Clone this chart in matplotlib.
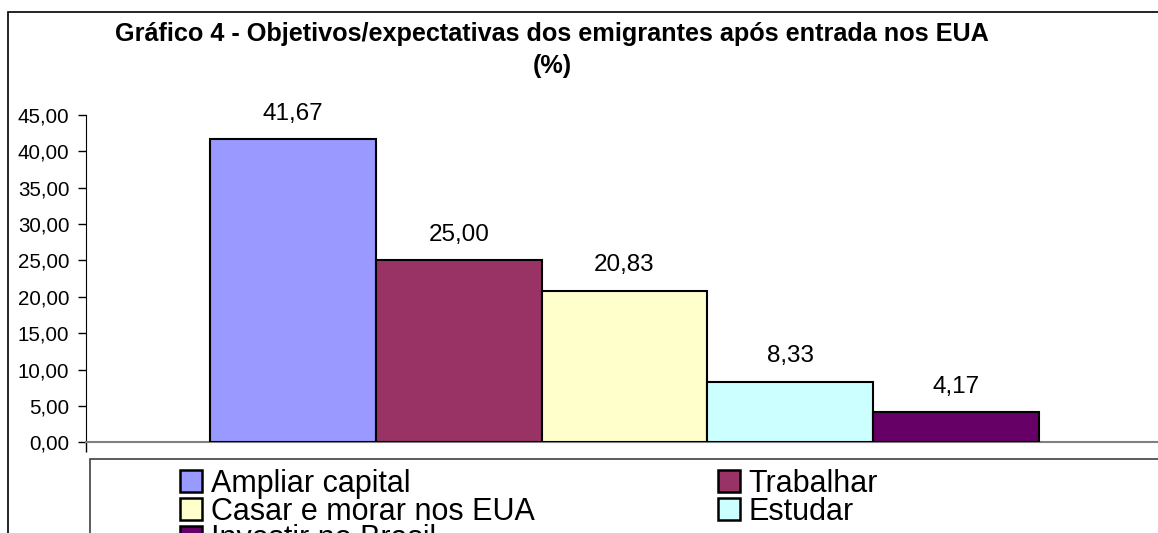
import matplotlib.pyplot as plt
from matplotlib.patches import Rectangle, Patch

plt.rcParams['font.family'] = ['Liberation Sans', 'DejaVu Sans']

# data
series = ['Ampliar capital', 'Trabalhar', 'Casar e morar nos EUA', 'Estudar', 'Investir no Brasil']
values = [41.67, 25.00, 20.83, 8.33, 4.17]
colors = ['#9999FF', '#993366', '#FFFFCC', '#CCFFFF', '#660066']
yticks = [0, 5, 10, 15, 20, 25, 30, 35, 40, 45]
title = 'Gráfico 4 - Objetivos/expectativas dos emigrantes após entrada nos EUA\n(%)'

W, H = 1158, 533
fig = plt.figure(figsize=(W / 100, H / 100), dpi=100)

# outer chart frame (cropped on right and bottom)
fig.patches.append(Rectangle((8 / W, -0.1), 1.2, (H - 12) / H + 0.1, transform=fig.transFigure,
                             fill=False, edgecolor='black', linewidth=1.2))

ax = fig.add_axes([86 / W, (H - 442.3) / H, 1077 / W, 327.3 / H])
x = list(range(len(values)))
ax.bar(x, values, width=1.0, color=colors, edgecolor='black', linewidth=1.5, zorder=3)
for xi, v in zip(x, values):
    ax.annotate(f'{v:.2f}'.replace('.', ','), (xi, v), xytext=(0, 14), textcoords='offset points',
                ha='center', va='baseline', fontsize=17.5)

ax.set_xlim(-1.248, 5.248)
ax.set_ylim(0, 45)
ax.set_yticks(yticks)
ax.set_yticklabels([f'{t:.2f}'.replace('.', ',') for t in yticks], fontsize=14.8)
ax.tick_params(axis='y', direction='out', length=6, width=1, pad=6)
ax.set_xticks([-1.248])
ax.set_xticklabels([''])
ax.tick_params(axis='x', direction='out', length=7, width=1, color='black')
for s in ['top', 'right']:
    ax.spines[s].set_visible(False)
ax.spines['left'].set_color('black')
ax.spines['bottom'].set_color('#808080')
ax.spines['bottom'].set_linewidth(1.5)

fig.text(552 / W, 1 - 22 / H, title, ha='center', va='top', fontsize=18.2, fontweight='bold',
         linespacing=1.4)

# legend frame (cropped)
fig.patches.append(Rectangle((90 / W, -0.1), 1.2, (H - 459) / H + 0.1, transform=fig.transFigure,
                             fill=False, edgecolor='#404040', linewidth=1.2))

handles = [Patch(facecolor=c, edgecolor='black', linewidth=1.8) for c in colors]
order = [0, 2, 4, 1, 3]
fig.legend([handles[i] for i in order], [series[i] for i in order], ncol=2,
           loc='upper left', bbox_to_anchor=(180 / W, 1 - 469 / H), frameon=False,
           fontsize=22, handlelength=0.72, handleheight=0.72, handletextpad=0.28,
           columnspacing=6.0, labelspacing=-0.08, borderpad=0, borderaxespad=0)

fig.savefig('out.png', dpi=100)
